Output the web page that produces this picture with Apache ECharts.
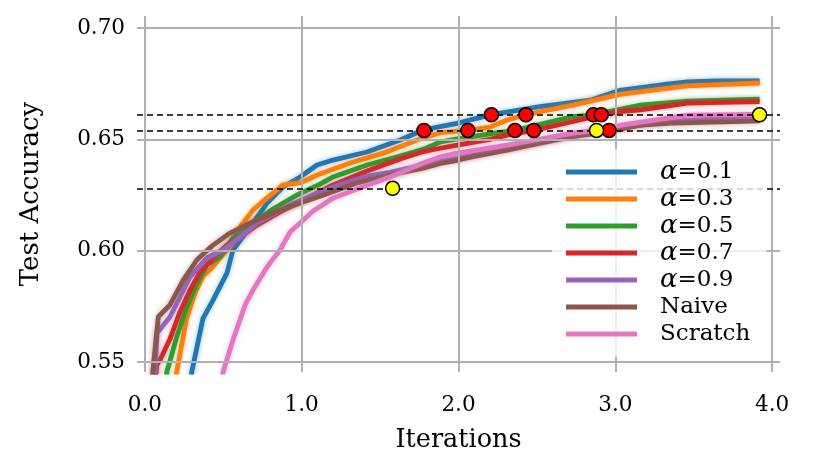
<!DOCTYPE html>
<html><head><meta charset="utf-8">
<script src="https://cdn.jsdelivr.net/npm/echarts@6/dist/echarts.min.js"></script>
<style>html,body{margin:0;padding:0;background:#fff}#c{width:831px;height:462px}</style>
</head><body><div id="c"></div>
<script>
// ---- data (iterations, test accuracy) ----
const seriesNames = ['α=0.1', 'α=0.3', 'α=0.5', 'α=0.7', 'α=0.9', 'Naive', 'Scratch'];
const seriesColors = ['#1f77b4', '#ff7f0e', '#2ca02c', '#d62728', '#9467bd', '#8c564b', '#e377c2'];

const alpha01 = [[0.28,0.535],[0.299,0.5455],[0.371,0.5696],[0.435,0.5778],[0.524,0.590],[0.562,0.6003],[0.671,0.6106],[0.779,0.6214],[0.881,0.6286],[0.99,0.6331],[1.098,0.6385],[1.2,0.6407],[1.417,0.6443],[1.628,0.6497],[1.775,0.6542],[1.883,0.6557],[1.992,0.6572],[2.2,0.661],[2.52,0.6647],[2.84,0.6676],[3.03,0.672],[3.33,0.6748],[3.46,0.6758],[3.65,0.6762],[3.92,0.6762]];
const alpha03 = [[0.18,0.530],[0.203,0.5455],[0.267,0.5698],[0.32,0.581],[0.371,0.5886],[0.427,0.5922],[0.48,0.5967],[0.543,0.6018],[0.607,0.6106],[0.69,0.6183],[0.777,0.6236],[0.881,0.6295],[0.99,0.6304],[1.098,0.634],[1.309,0.6394],[1.519,0.6438],[1.736,0.6497],[1.883,0.653],[2.06,0.654],[2.2,0.6555],[2.31,0.6587],[2.43,0.661],[2.52,0.6624],[2.73,0.6654],[3.03,0.6702],[3.46,0.674],[3.75,0.6748],[3.92,0.6753]];
const alpha05 = [[0.12,0.530],[0.14,0.5455],[0.203,0.5612],[0.267,0.5747],[0.331,0.585],[0.395,0.5936],[0.48,0.5973],[0.562,0.6057],[0.671,0.6115],[0.818,0.6187],[0.97,0.625],[1.117,0.6299],[1.2,0.6331],[1.417,0.6385],[1.628,0.6425],[1.775,0.6455],[1.883,0.6488],[1.992,0.6502],[2.2,0.6525],[2.36,0.654],[2.52,0.6567],[2.73,0.6602],[2.86,0.661],[3.16,0.6654],[3.46,0.6672],[3.92,0.6681]];
const alpha07 = [[0.06,0.535],[0.076,0.5487],[0.097,0.5509],[0.16,0.5603],[0.224,0.5725],[0.288,0.5823],[0.352,0.5904],[0.435,0.5967],[0.524,0.6025],[0.607,0.6061],[0.716,0.6115],[0.862,0.6174],[1.034,0.6236],[1.2,0.6295],[1.417,0.6358],[1.628,0.6412],[1.775,0.6445],[1.883,0.646],[1.992,0.6474],[2.2,0.650],[2.31,0.6519],[2.48,0.654],[2.73,0.658],[2.91,0.661],[3.03,0.6625],[3.16,0.6632],[3.46,0.6663],[3.75,0.6667],[3.92,0.6669]];
const alpha09 = [[0.045,0.530],[0.065,0.5455],[0.078,0.563],[0.16,0.5702],[0.224,0.5792],[0.288,0.5882],[0.395,0.5967],[0.5,0.6003],[0.607,0.6061],[0.716,0.6124],[0.926,0.6205],[1.2,0.6286],[1.417,0.6335],[1.564,0.6352],[1.775,0.6385],[1.992,0.6415],[2.2,0.6445],[2.476,0.648],[2.73,0.652],[3.03,0.6551],[3.35,0.6582],[3.75,0.6594],[3.92,0.6596]];
const naive = [[0.04,0.530],[0.05,0.5452],[0.086,0.5703],[0.16,0.5756],[0.245,0.5868],[0.331,0.5958],[0.435,0.6025],[0.543,0.6079],[0.671,0.6124],[0.818,0.6169],[0.99,0.6214],[1.14,0.625],[1.353,0.6304],[1.564,0.634],[1.775,0.6371],[1.883,0.6392],[1.992,0.6406],[2.093,0.6422],[2.31,0.6452],[2.52,0.6483],[2.73,0.6512],[2.95,0.6534],[3.16,0.6564],[3.35,0.6573],[3.75,0.658],[3.92,0.6583]];
const scratch = [[0.48,0.535],[0.499,0.5455],[0.562,0.5599],[0.639,0.5756],[0.69,0.5823],[0.779,0.5927],[0.862,0.6003],[0.926,0.6084],[0.99,0.6124],[1.073,0.6178],[1.2,0.6236],[1.353,0.6277],[1.564,0.6331],[1.775,0.6394],[1.883,0.6421],[1.992,0.6438],[2.31,0.6474],[2.73,0.6528],[2.88,0.654],[3.05,0.6565],[3.46,0.6609],[3.92,0.6612]];
const seriesData = [alpha01, alpha03, alpha05, alpha07, alpha09, naive, scratch];

const thresholds = [0.661, 0.654, 0.628];
const redMarkers = [[1.78,0.654],[2.06,0.654],[2.36,0.654],[2.48,0.654],[2.96,0.654],[2.21,0.661],[2.43,0.661],[2.86,0.661],[2.91,0.661]];
const yellowMarkers = [[1.58,0.628],[2.88,0.654],[3.92,0.661]];

const xTicks = [0, 1, 2, 3, 4];
const yTicks = [0.55, 0.60, 0.65, 0.70];

// ---- chart ----
const FONT = 'DejaVu Serif';
function hexA(h, a) {
  const n = parseInt(h.slice(1), 16);
  return 'rgba(' + (n >> 16) + ',' + ((n >> 8) & 255) + ',' + (n & 255) + ',' + a + ')';
}
const chart = echarts.init(document.getElementById('c'), null, { renderer: 'canvas' });

const lineSeries = seriesNames.map((name, i) => ({
  name, type: 'line', data: seriesData[i], showSymbol: false, symbol: 'none',
  z: 3, clip: true, silent: true,
  color: seriesColors[i],
  lineStyle: { width: 4.8, color: seriesColors[i], shadowBlur: 5, shadowColor: hexA(seriesColors[i], 0.45) },
  itemStyle: { color: seriesColors[i] }
}));

const option = {
  animation: false,
  backgroundColor: '#ffffff',
  grid: { left: 137, right: 51, top: 16, bottom: 90, containLabel: false },
  xAxis: {
    type: 'value', min: -0.05, max: 4.05,
    axisLine: { show: false }, axisTick: { show: false }, splitLine: { show: false },
    axisLabel: { customValues: xTicks, formatter: v => v.toFixed(1), fontFamily: FONT, fontSize: 21.5, color: '#000', margin: 22 },
    name: 'Iterations', nameLocation: 'middle', nameGap: 55,
    nameTextStyle: { fontFamily: FONT, fontSize: 25.5, color: '#000' }
  },
  yAxis: {
    type: 'value', min: 0.5455, max: 0.7054,
    axisLine: { show: false }, axisTick: { show: false }, splitLine: { show: false },
    axisLabel: { customValues: yTicks, formatter: v => v.toFixed(2), fontFamily: FONT, fontSize: 21.5, color: '#000', margin: 12 },
    name: 'Test Accuracy', nameLocation: 'middle', nameGap: 93, nameRotate: 90,
    nameTextStyle: { fontFamily: FONT, fontSize: 26, color: '#000' }
  },
  legend: {
    data: seriesNames, orient: 'vertical', left: 552, top: 149,
    padding: [10, 16, 10, 14], itemGap: 1, itemWidth: 71, itemHeight: 5, icon: 'rect',
    backgroundColor: 'rgba(255,255,255,0.8)', borderWidth: 0,
    selectedMode: false, z: 10,
    textStyle: {
      fontFamily: FONT, fontSize: 23, color: '#000', lineHeight: 26, padding: [0, 0, 0, 18],
      rich: {
        a: { fontFamily: FONT, fontStyle: 'italic', fontSize: 26, lineHeight: 26, color: '#000' },
        b: { fontFamily: FONT, fontSize: 23, lineHeight: 26, color: '#000' }
      }
    },
    formatter: n => n.charAt(0) === 'α' ? '{a|α}{b|' + n.slice(1) + '}' : '{b|' + n + '}'
  },
  series: [
    {
      name: '_grid', type: 'line', data: [], z: 1, silent: true,
      markLine: {
        silent: true, symbol: ['none', 'none'], label: { show: false }, animation: false, precision: 4,
        lineStyle: { color: '#b0b0b0', width: 2, type: 'solid' },
        data: xTicks.map(v => ({ xAxis: v })).concat(yTicks.map(v => ({ yAxis: v })))
      }
    },
    ...lineSeries,
    {
      name: '_thr', type: 'line', data: [], z: 5, silent: true,
      markLine: {
        silent: true, symbol: ['none', 'none'], label: { show: false }, animation: false, precision: 4,
        lineStyle: { color: '#000', width: 1.5, type: [6, 4] },
        data: thresholds.map(v => ({ yAxis: v }))
      }
    },
    {
      name: '_red', type: 'scatter', data: redMarkers, z: 6, silent: true,
      symbol: 'circle', symbolSize: 14,
      itemStyle: { color: '#ff0000', borderColor: '#000', borderWidth: 1.5, opacity: 1 }
    },
    {
      name: '_yellow', type: 'scatter', data: yellowMarkers, z: 6, silent: true,
      symbol: 'circle', symbolSize: 14,
      itemStyle: { color: '#ffff00', borderColor: '#000', borderWidth: 1.5, opacity: 1 }
    }
  ]
};
chart.setOption(option);
</script></body></html>
